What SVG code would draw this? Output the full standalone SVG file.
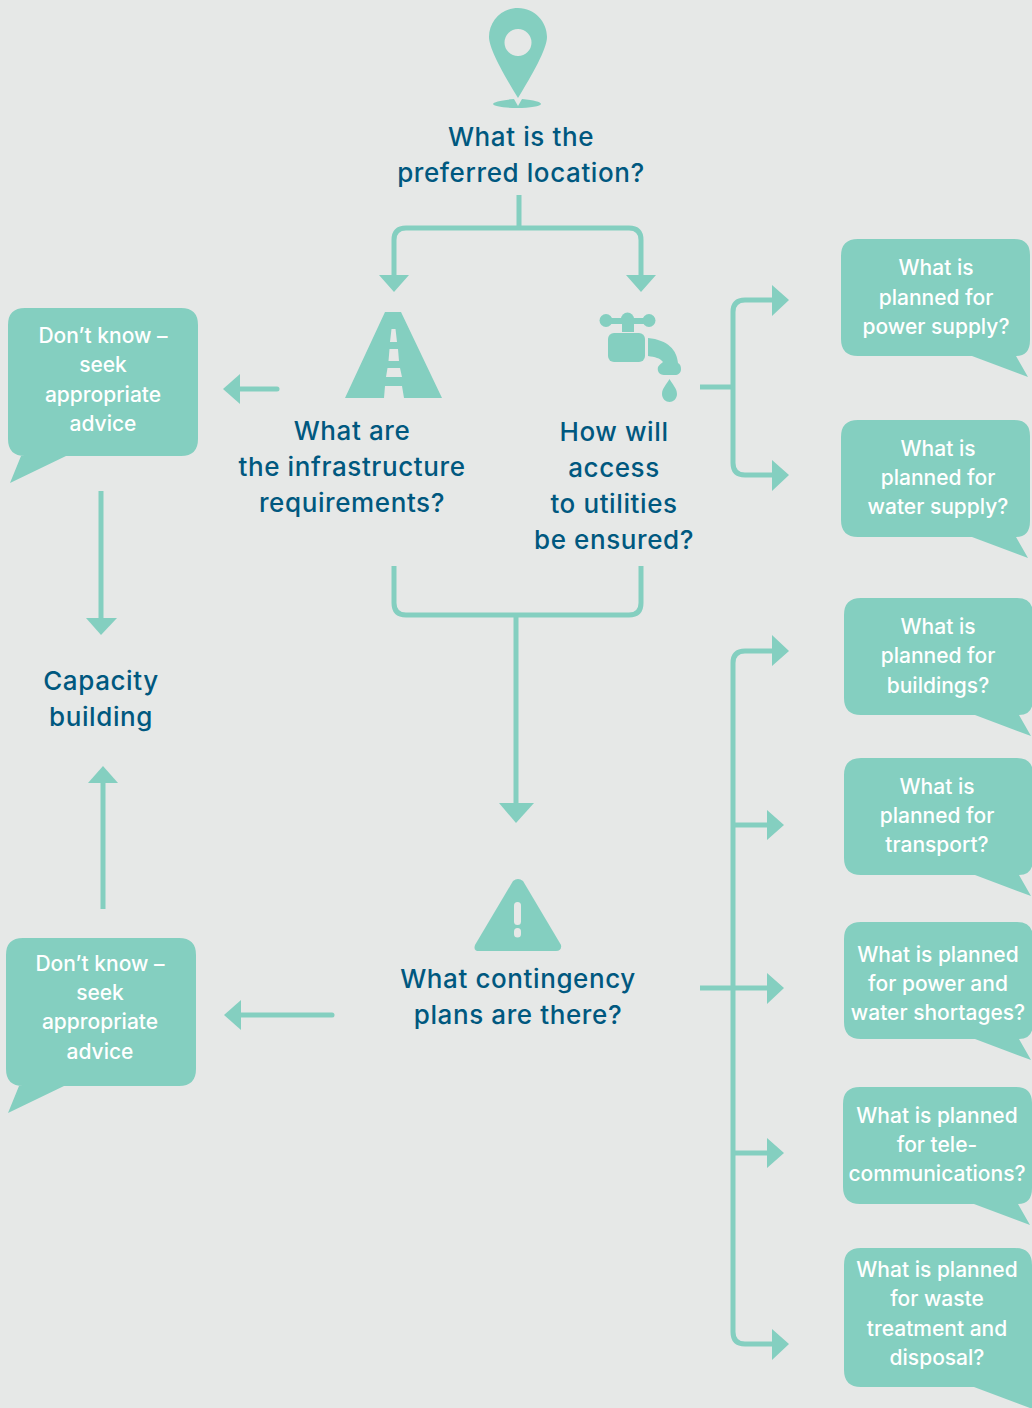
<svg xmlns="http://www.w3.org/2000/svg" width="1032" height="1408" viewBox="0 0 1032 1408">
<style>
.h{font:500 26px Inter,"Liberation Sans",sans-serif;fill:#00587f;text-anchor:middle;letter-spacing:.6px}
.b{font:500 21px Inter,"Liberation Sans",sans-serif;fill:#fff;text-anchor:middle;letter-spacing:0}
.t{fill:#84cfc0}
.l{fill:none;stroke:#84cfc0;stroke-width:5}
.a{fill:#84cfc0;stroke:none}
</style>
<defs>
<path id="br" class="t" d="M17 0H173Q189 0 189 16V101Q189 117 175 117L187 138L131 117H17Q0 117 0 100V17Q0 0 17 0Z"/>
<path id="bl" class="t" d="M17 0H173Q190 0 190 17V131Q190 148 173 148H58L2 175L13 148H17Q0 148 0 131V17Q0 0 17 0Z"/>
</defs>
<rect width="1032" height="1408" fill="#e6e8e7"/>
<g id="connectors">
<path class="l" d="M519 195V228"/>
<path class="l" d="M394 278V240Q394 228 406 228H629Q641 228 641 240V278"/>
<path class="a" d="M379 275H409L394 292ZM626 275H656L641 292Z"/>
<path class="l" d="M277 389H236" stroke-linecap="round"/><path class="a" d="M240 374V404L223 389Z"/>
<path class="l" d="M700 387H733"/>
<path class="l" d="M775 300H745Q733 300 733 312V463Q733 475 745 475H775"/>
<path class="a" d="M772 285L789 300L772 316ZM772 460L789 475L772 491Z"/>
<path class="l" d="M394 566V603Q394 615 406 615H629Q641 615 641 603V566"/>
<path class="l" d="M516 615V806"/><path class="a" d="M499 803H534L516 823Z"/>
<path class="l" d="M101 491V620"/><path class="a" d="M86 618H117L101 635Z"/>
<path class="l" d="M103 909V780"/><path class="a" d="M88 783H118L103 766Z"/>
<path class="l" d="M332 1015H238" stroke-linecap="round"/><path class="a" d="M241 1000V1030L224 1015Z"/>
<path class="l" d="M700 988H733"/>
<path class="l" d="M775 651H745Q733 651 733 663V1332Q733 1344 745 1344H775"/>
<path class="l" d="M733 825H770M733 988H770M733 1153H770"/>
<path class="a" d="M772 635L789 651L772 666ZM767 810L784 825L767 840ZM767 973L784 988L767 1004ZM767 1138L784 1153L767 1168ZM772 1329L789 1344L772 1360Z"/>
</g>
<g id="location">
<path class="t" fill-rule="evenodd" d="M518 8C535 8 547 22 547 37C547 49 532 75 518 98C504 75 489 49 489 37C489 22 501 8 518 8ZM518 29A13.500 13.500 0 1 0 518.010 56A13.500 13.500 0 1 0 518 29Z"/>
<path class="t" d="M514 99L518 106L522 99C534 100 541 102 541 104C541 106 530 108 517 108C504 108 493 106 493 104C493 102 502 100 514 99Z"/>
<text class="h" x="521" y="146">What is the</text><text class="h" x="521" y="182">preferred location?</text>
</g>
<g id="infrastructure">
<path class="t" d="M385 312H401L442 398H404L402 386H385L384 398H345Z"/>
<path d="M391.500 329H395.500L397 342H390ZM389.500 349H398L399 361H388.500ZM387.500 368H400L402 377H386Z" fill="#e6e8e7"/>
<text class="h" x="352" y="440">What are</text><text class="h" x="352" y="476">the infrastructure</text><text class="h" x="352" y="512">requirements?</text>
</g>
<g id="utilities">
<rect class="t" x="602" y="318" width="52" height="6"/><circle class="t" cx="606" cy="320.500" r="6.500"/><circle class="t" cx="649" cy="320.500" r="6.500"/><circle class="t" cx="627.500" cy="319" r="6.500"/><rect class="t" x="622" y="318" width="12" height="14"/>
<rect class="t" x="608" y="333" width="37" height="29" rx="6"/>
<path class="t" d="M648 338C668 340 677 350 678 363C680 364 681 366 681 369C681 373 678 375 675 375H664C659 375 657 371 658 367C660 364 662 363 663 362C660 358 655 357 648 356Z"/>
<path class="t" d="M669.500 379C672 384 677 388 677 394C677 399 673 402 669.500 402C666 402 662 399 662 394C662 388 667 384 669.500 379Z"/>
<text class="h" x="614" y="441">How will</text><text class="h" x="614" y="477">access</text><text class="h" x="614" y="513">to utilities</text><text class="h" x="614" y="549">be ensured?</text>
</g>
<g id="contingency">
<path class="t" d="M513 881Q518 877 523 881L561 945Q562 951 556 951H479Q473 951 475 945Z"/>
<rect x="514" y="902" width="7" height="23" rx="3.500" fill="#e6e8e7"/><rect x="514" y="928" width="7" height="9.500" rx="3.500" fill="#e6e8e7"/>
<text class="h" x="518" y="988">What contingency</text><text class="h" x="518" y="1024">plans are there?</text>
</g>
<g id="capacity"><text class="h" x="101" y="690">Capacity</text><text class="h" x="101" y="726">building</text></g>
<g id="advice1"><use href="#bl" x="8" y="308"/><text class="b" x="103" y="343">Don’t know –</text><text class="b" x="103" y="372">seek</text><text class="b" x="103" y="402">appropriate</text><text class="b" x="103" y="431">advice</text></g>
<g id="advice2"><use href="#bl" x="6" y="938"/><text class="b" x="100" y="971">Don’t know –</text><text class="b" x="100" y="1000">seek</text><text class="b" x="100" y="1029">appropriate</text><text class="b" x="100" y="1059">advice</text></g>
<g id="power"><use href="#br" x="841" y="239"/><text class="b" x="936" y="275">What is</text><text class="b" x="936" y="305">planned for</text><text class="b" x="936" y="334">power supply?</text></g>
<g id="water"><use href="#br" x="841" y="420"/><text class="b" x="938" y="456">What is</text><text class="b" x="938" y="485">planned for</text><text class="b" x="938" y="514">water supply?</text></g>
<g id="buildings"><use href="#br" x="844" y="598"/><text class="b" x="938" y="634">What is</text><text class="b" x="938" y="663">planned for</text><text class="b" x="938" y="693">buildings?</text></g>
<g id="transport"><use href="#br" x="844" y="758"/><text class="b" x="937" y="794">What is</text><text class="b" x="937" y="823">planned for</text><text class="b" x="937" y="852">transport?</text></g>
<g id="shortages"><use href="#br" x="844" y="922"/><text class="b" x="938" y="962">What is planned</text><text class="b" x="938" y="991">for power and</text><text class="b" x="938" y="1020">water shortages?</text></g>
<g id="telecom"><use href="#br" x="843" y="1087"/><text class="b" x="937" y="1123">What is planned</text><text class="b" x="937" y="1152">for tele-</text><text class="b" x="937" y="1181">communications?</text></g>
<g id="waste"><path class="t" d="M861 1248H1015Q1032 1248 1032 1265V1408H1030L974 1387H861Q844 1387 844 1370V1265Q844 1248 861 1248Z"/><text class="b" x="937" y="1277">What is planned</text><text class="b" x="937" y="1306">for waste</text><text class="b" x="937" y="1336">treatment and</text><text class="b" x="937" y="1365">disposal?</text></g>
</svg>
